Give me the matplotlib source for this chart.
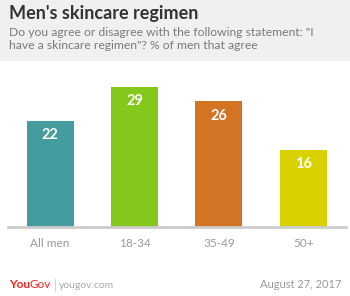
import matplotlib.pyplot as plt
from matplotlib.patches import Rectangle

categories = ["All men", "18-34", "35-49", "50+"]
values = [22, 29, 26, 16]
colors = ["#449c9f", "#84c81c", "#d37425", "#d9d200"]

title = "Men's skincare regimen"
subtitle = 'Do you agree or disagree with the following statement: "I\nhave a skincare regimen"? % of men that agree'

plt.rcParams['font.family'] = ['Lato', 'DejaVu Sans']

fig = plt.figure(figsize=(3.5, 2.96), dpi=100)
fig.patch.set_facecolor("white")

# grey header band
fig.patches.append(Rectangle((0, 1 - 61 / 296), 1, 61 / 296, transform=fig.transFigure,
                             facecolor="#f0f0f0", edgecolor="none", zorder=0))
fig.text(9 / 350, 1 - 14 / 296, title, fontsize=13, fontweight="bold", color="#333333", va="center")
fig.text(9 / 350, 1 - 39 / 296, subtitle, fontsize=8.7, color="#7a7a7a", va="center", linespacing=1.25)

ax = fig.add_axes([8 / 350, 69 / 296, 337.5 / 350, 145.2 / 296])
x = range(len(categories))
bars = ax.bar(x, values, width=0.557, color=colors, zorder=2)
for xi, v in zip(x, values):
    ax.text(xi, v - 3, str(v), ha="center", va="center", color="white", fontsize=10.5, fontweight="bold")

ax.set_xlim(-0.5, 3.5)
ax.set_ylim(0, 30)
ax.set_yticks([])
ax.set_xticks(list(x))
ax.set_xticklabels(categories, fontsize=8.5, color="#999999")
ax.tick_params(axis="x", length=0, pad=8)
for s in ["top", "right", "left"]:
    ax.spines[s].set_visible(False)
ax.spines["bottom"].set_color("#cccccc")
ax.spines["bottom"].set_linewidth(2)

# footer
fy = 1 - 285 / 296
t1 = fig.text(9 / 350, fy, "You", fontsize=8.5, fontweight="bold", color="#ff2020", va="center")
fig.canvas.draw()
bb = t1.get_window_extent()
t2 = fig.text(bb.x1 / 350, fy, "Gov", fontsize=8.5, color="#ff2020", va="center")
fig.canvas.draw()
bb2 = t2.get_window_extent()
fig.text(bb2.x1 / 350 + 2 / 350, fy, "|", fontsize=9, color="#cccccc", va="center")
fig.text(bb2.x1 / 350 + 8 / 350, fy, "yougov.com", fontsize=7.5, color="#aaaaaa", va="center")
fig.text(341 / 350, fy, "August 27, 2017", fontsize=8, color="#999999", va="center", ha="right")

fig.savefig("out.png", dpi=100)
